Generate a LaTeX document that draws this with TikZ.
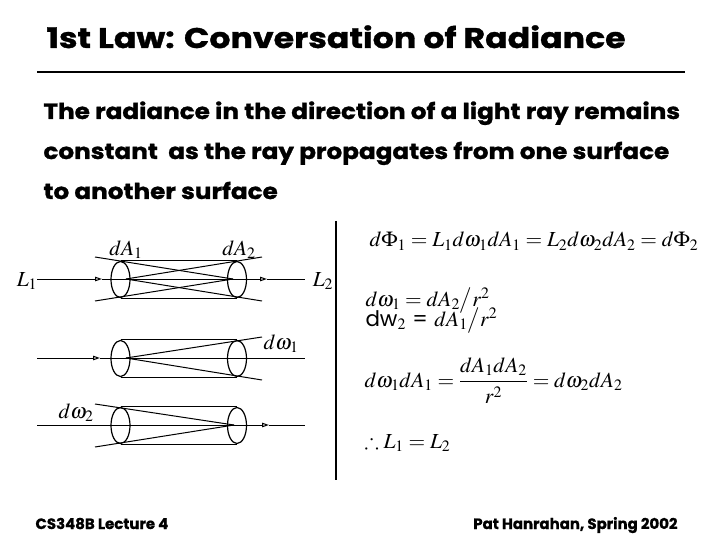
\documentclass[tikz,border=0pt]{standalone}
\usepackage{amsmath,amssymb}
\usepackage{mathptmx}
\usepackage{fontspec}
\newfontfamily\titlefont{Poppins}[FakeStretch=1.17, BoldFeatures={FakeBold=1.2}]
\newfontfamily\bodyfont{Poppins}[FakeStretch=1.125, BoldFeatures={FakeBold=1.2}]
\newfontfamily\slidefont{Poppins}[BoldFeatures={FakeBold=1}]
\usetikzlibrary{arrows.meta,shapes.geometric}
\begin{document}
\begin{tikzpicture}
[x=1bp, y=-1bp, line width=1bp,
 head/.style={font=\titlefont\bfseries\fontsize{28.5}{32}\selectfont, anchor=base west, inner sep=0pt},
 body/.style={font=\bodyfont\bfseries\fontsize{22}{26}\selectfont, anchor=base west, inner sep=0pt},
 foot/.style={font=\slidefont\bfseries\fontsize{15}{18}\selectfont, inner sep=0pt},
 eq/.style={font=\fontsize{21.5}{26}\selectfont, anchor=base west, inner sep=0pt},
 lab/.style={font=\fontsize{21.5}{26}\selectfont, inner sep=0pt},
 disc/.style={draw, ellipse, minimum width=19bp, minimum height=36bp, inner sep=0pt, line width=1.2bp},
 ray/.style={-{Triangle[open, length=7bp, width=4.5bp]}}]
\useasboundingbox (0,0) rectangle (720,540);

% heading and text
\node (title) at (46,48) [head] {1st Law: Conversation of Radiance};
\coordinate (ruleL) at (37,72);
\coordinate (ruleR) at (685,72);
\draw[line width=2bp] (ruleL) -- (ruleR);
\node (txt1) at (43,119) [body] {The radiance in the direction of a light ray remains};
\node (txt2) at (43,159) [body] {constant~ as the ray propagates from one surface};
\node (txt3) at (43,199) [body] {to another surface};

% divider
\coordinate (divT) at (336,221);
\coordinate (divB) at (336,480);
\draw[line width=2bp] (divT) -- (divB);

% first tube: dA1 and dA2
\node (L1) at (27,281) [lab] {$L_1$};
\node (L2) at (323,281) [lab] {$L_2$};
\coordinate (a1s) at (37,279);
\coordinate (a1m) at (102,279);
\coordinate (a1n) at (267,279);
\coordinate (a1e) at (305,279);
\draw[ray] (a1s) -- (a1m);
\draw[ray] (a1m) -- (a1n);
\draw (a1n) -- (a1e);
\node (dA1) at (120.5,279.5) [disc] {};
\node (dA2) at (237,279.5) [disc] {};
\draw (dA1.north) -- (dA2.north);
\draw (dA1.south) -- (dA2.south);
\coordinate (fA1) at (126,279);
\coordinate (fA2) at (233,279);
\coordinate (tA1) at (262,257);
\coordinate (bA1) at (262,301);
\coordinate (tA2) at (95,257);
\coordinate (bA2) at (95,301);
\draw (fA1) -- (tA1);
\draw (fA1) -- (bA1);
\draw (fA2) -- (tA2);
\draw (fA2) -- (bA2);
\node (labA1) at (126,250) [lab] {$dA_1$};
\node (labA2) at (239,250) [lab] {$dA_2$};

% second tube: solid angle at dA1
\coordinate (b1s) at (37,358);
\coordinate (b1m) at (100,358);
\coordinate (b1e) at (305,358);
\draw[ray] (b1s) -- (b1m);
\draw (b1m) -- (b1e);
\node (dB1) at (120.5,358.5) [disc] {};
\node (dB2) at (237,358.5) [disc] {};
\draw (dB1.north) -- (dB2.north);
\draw (dB1.south) -- (dB2.south);
\coordinate (fB1) at (126,358);
\coordinate (tB1) at (262,337);
\coordinate (bB1) at (262,380);
\draw (fB1) -- (tB1);
\draw (fB1) -- (bB1);
\node (labB1) at (281,344) [lab] {$d\omega_1$};

% third tube: solid angle at dA2
\coordinate (c1s) at (37,425);
\coordinate (c1m) at (269,425);
\coordinate (c1e) at (305,425);
\draw[ray] (c1s) -- (c1m);
\draw (c1m) -- (c1e);
\node (dC1) at (120.5,425.5) [disc] {};
\node (dC2) at (237,425.5) [disc] {};
\draw (dC1.north) -- (dC2.north);
\draw (dC1.south) -- (dC2.south);
\coordinate (fC2) at (234,425);
\coordinate (tC2) at (95,404);
\coordinate (bC2) at (95,447);
\draw (fC2) -- (tC2);
\draw (fC2) -- (bC2);
\node (labC2) at (76,413) [lab] {$d\omega_2$};

% equations
\node (eq1) at (369,247) [eq] {$d\Phi_1 = L_1 d\omega_1 dA_1 = L_2 d\omega_2 dA_2 = d\Phi_2$};
\node (eq2) at (365,306) [eq] {$d\omega_1 = dA_2\big/r^2$};
\node (eq3) at (365,326) [eq] {{\slidefont dw}$_2$ {\slidefont =} $dA_1\big/r^2$};
\node (eq4) at (364,387) [eq] {$d\omega_1 dA_1 = \dfrac{dA_1 dA_2\rule[-6bp]{0pt}{6bp}}{\rule{0pt}{19bp}r^2} = d\omega_2 dA_2$};
\node (eq5) at (364,448) [eq] {$\therefore L_1 = L_2$};

% footer
\node (footL) at (35,529) [foot, anchor=base west] {CS348B Lecture 4};
\node (footR) at (678,529) [foot, anchor=base east] {Pat Hanrahan, Spring 2002};
\end{tikzpicture}
\end{document}
